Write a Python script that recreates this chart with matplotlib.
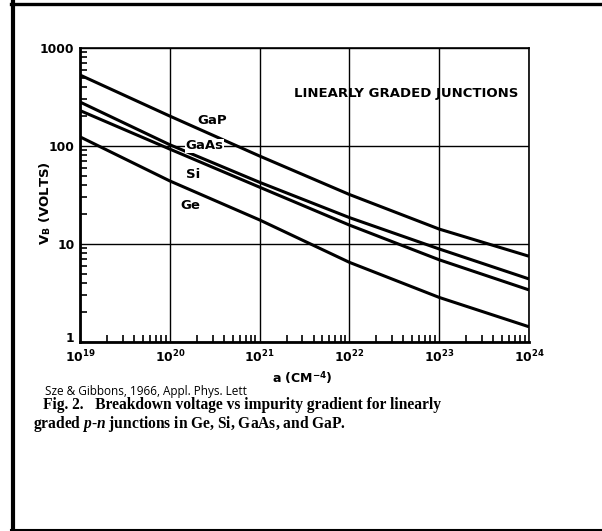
import matplotlib
matplotlib.use("Agg")
import matplotlib.pyplot as plt
from matplotlib.lines import Line2D
from matplotlib.ticker import LogLocator, NullFormatter, FixedLocator, FixedFormatter

plt.rcParams["mathtext.fontset"] = "custom"
plt.rcParams["mathtext.rm"] = "DejaVu Sans"
plt.rcParams["mathtext.it"] = "Liberation Serif:italic:bold"
plt.rcParams["mathtext.bf"] = "DejaVu Sans:bold"

# ---- data ----
gradient = [1e19, 1e20, 1e21, 1e22, 1e23, 1e24]          # a (cm^-4)
v_gap  = [530, 202, 79, 32, 14.2, 7.5]
v_gaas = [281, 103, 42.6, 18.6, 8.9, 4.4]
v_si   = [230, 93, 38, 15.6, 6.9, 3.4]
v_ge   = [124, 44, 17.6, 6.5, 2.85, 1.43]
series_labels = ["GaP", "GaAs", "Si", "Ge"]
x_ticks = [1e19, 1e20, 1e21, 1e22, 1e23, 1e24]
x_ticklabels = [r"$\mathregular{10^{19}}$", r"$\mathregular{10^{20}}$", r"$\mathregular{10^{21}}$",
                r"$\mathregular{10^{22}}$", r"$\mathregular{10^{23}}$", r"$\mathregular{10^{24}}$"]
y_ticks = [1, 10, 100, 1000]
y_ticklabels = ["1", "10", "100", "1000"]

fig = plt.figure(figsize=(6.02, 5.31), dpi=100)
ax = fig.add_axes([80/602, 1-342/531, 449/602, 294/531])

for ys in (v_gap, v_gaas, v_si, v_ge):
    ax.plot(gradient, ys, color="black", lw=2.2, solid_capstyle="butt")

ax.set_xscale("log")
ax.set_yscale("log")
ax.set_xlim(1e19, 1e24)
ax.set_ylim(1, 1000)

ax.xaxis.set_major_locator(FixedLocator(x_ticks))
ax.xaxis.set_major_formatter(FixedFormatter(x_ticklabels))
ax.yaxis.set_major_locator(FixedLocator(y_ticks))
ax.yaxis.set_major_formatter(FixedFormatter([""] + y_ticklabels[1:]))
ax.xaxis.set_minor_locator(LogLocator(base=10, subs=range(2, 10), numticks=20))
ax.yaxis.set_minor_locator(LogLocator(base=10, subs=range(2, 10), numticks=20))
ax.xaxis.set_minor_formatter(NullFormatter())
ax.yaxis.set_minor_formatter(NullFormatter())

ax.grid(True, which="major", color="black", lw=1.0)
ax.tick_params(which="major", length=0, labelsize=8.8, pad=4)
ax.tick_params(which="minor", direction="in", length=5, width=1.2, color="black")
ax.tick_params(axis="x", which="major", pad=5)
for lab in ax.get_xticklabels() + ax.get_yticklabels():
    lab.set_fontweight("bold")

# the "1" label sits slightly above the axis corner
ax.annotate(y_ticklabels[0], xy=(0, y_ticks[0]), xycoords=("axes fraction", "data"),
            xytext=(-4, 2.5), textcoords="offset points", ha="right", va="center",
            fontsize=8.8, fontweight="bold")

ax.spines["left"].set_linewidth(2.0)
ax.spines["bottom"].set_linewidth(2.0)
ax.spines["top"].set_linewidth(1.2)
ax.spines["right"].set_linewidth(1.2)

lab_kw = dict(transform=ax.transAxes, fontsize=9.5, fontweight="bold", ha="center", va="center")
ax.text(0.294, 0.755, series_labels[0], **lab_kw)
ax.text(0.278, 0.667, series_labels[1], bbox=dict(facecolor="white", edgecolor="none", pad=0.5), **lab_kw)
ax.text(0.252, 0.571, series_labels[2], **lab_kw)
ax.text(0.245, 0.463, series_labels[3], **lab_kw)
ax.text(0.726, 0.844, "LINEARLY GRADED JUNCTIONS", **lab_kw)

fig.text(45/602, 1-203/531, r"V$_\mathbf{B}$ (VOLTS)", rotation=90, fontsize=9.5,
         fontweight="bold", ha="center", va="center")
fig.text(302/602, 1-378/531, r"a (CM$^\mathbf{-4}$)", fontsize=9, fontweight="bold",
         ha="center", va="center")

fig.text(45/602, 1-392/531, "Sze & Gibbons, 1966, Appl. Phys. Lett", fontsize=8.5,
         family="Open Sans", ha="left", va="center")
fig.text(43/602, 1-405/531, "Fig. 2.   Breakdown voltage vs impurity gradient for linearly",
         fontsize=11.2, family="Liberation Serif", fontweight="bold", ha="left", va="center")
fig.text(33/602, 1-424/531, r"graded $\mathit{p}$-$\mathit{n}$ junctions in Ge, Si, GaAs, and GaP.",
         fontsize=11.2, family="Liberation Serif", fontweight="bold", ha="left", va="center")

# page frame
fig.add_artist(Line2D([13/602, 13/602], [0.0, 1-2/531], transform=fig.transFigure, color="black", lw=3.0))
fig.add_artist(Line2D([11/602, 1.0], [1-3.5/531, 1-3.5/531], transform=fig.transFigure, color="black", lw=2.4))
fig.add_artist(Line2D([11/602, 1.0], [1-529.5/531, 1-529.5/531], transform=fig.transFigure, color="black", lw=1.5))

fig.savefig("out.png", dpi=100)
